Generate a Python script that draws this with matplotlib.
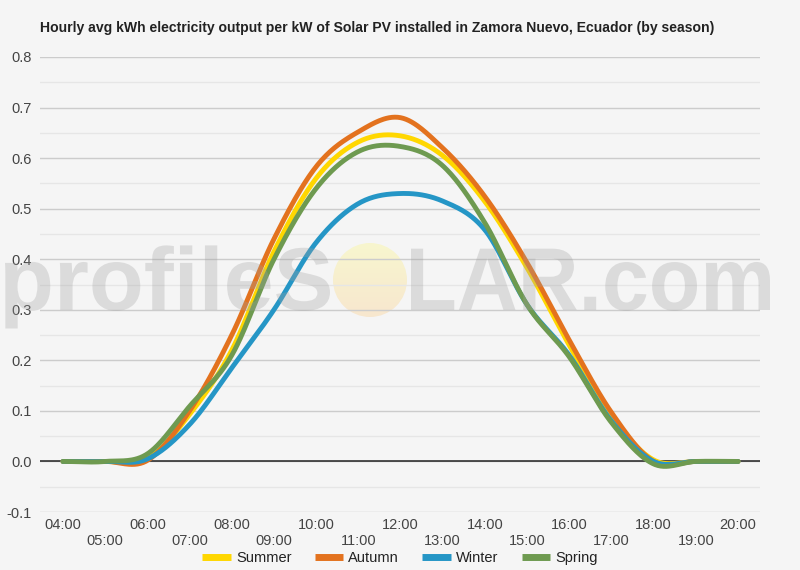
import numpy as np
import matplotlib
matplotlib.use("Agg")
import matplotlib.pyplot as plt
from matplotlib.patches import Circle, PathPatch
from matplotlib.textpath import TextPath
from matplotlib.font_manager import FontProperties
from matplotlib.transforms import Affine2D, IdentityTransform

hours = list(range(4, 21))
tick_labels = [f"{h:02d}:00" for h in hours]
summer = [0, 0, 0.005, 0.093, 0.22, 0.415, 0.56, 0.632, 0.644, 0.605, 0.514, 0.383, 0.23, 0.09, 0.003, 0, 0]
autumn = [0, 0, 0.002, 0.10, 0.25, 0.44, 0.583, 0.652, 0.68, 0.62, 0.524, 0.393, 0.24, 0.097, 0.0, 0, 0]
winter = [0, 0, 0.005, 0.073, 0.185, 0.30, 0.433, 0.51, 0.53, 0.515, 0.458, 0.31, 0.21, 0.08, 0.0, 0, 0]
spring = [0, 0, 0.015, 0.109, 0.21, 0.40, 0.54, 0.613, 0.623, 0.585, 0.472, 0.31, 0.207, 0.077, -0.005, 0, 0]
series_names = ["Summer", "Autumn", "Winter", "Spring"]
series_colors = ["#FFD700", "#E3721E", "#2596C6", "#6E9A50"]

plt.rcParams['font.family'] = ['Liberation Sans', 'DejaVu Sans']

BG = "#f5f5f5"
W, H = 800, 570
fig = plt.figure(figsize=(8, 5.7), dpi=100, facecolor=BG)
ax = fig.add_axes([40 / W, 1 - 512 / H, 720 / W, (512 - 57) / H], facecolor='none', zorder=2)

# sun of watermark (gradient disc) under the plot
cx, cy, r = 370, 280, 37
sax = fig.add_axes([(cx - r) / W, 1 - (cy + r) / H, 2 * r / W, 2 * r / H], zorder=1)
sax.axis('off')
top = np.array([248, 246, 206]) / 255
bot = np.array([247, 231, 207]) / 255
tt = np.linspace(0, 1, 64)[:, None]
grad = (top[None, :] * (1 - tt) + bot[None, :] * tt)[:, None, :].repeat(2, axis=1)
im = sax.imshow(grad, extent=[0, 1, 0, 1], aspect='auto', origin='upper')
clip = Circle((0.5, 0.5), 0.5, transform=sax.transAxes)
im.set_clip_path(clip)
sax.set_xlim(0, 1)
sax.set_ylim(0, 1)


def smooth(x, y, n=30):
    x = np.asarray(x, float)
    y = np.asarray(y, float)
    m = np.zeros_like(y)
    m[1:-1] = (y[2:] - y[:-2]) / (x[2:] - x[:-2])
    m[0] = (y[1] - y[0]) / (x[1] - x[0])
    m[-1] = (y[-1] - y[-2]) / (x[-1] - x[-2])
    xs, ys = [], []
    for i in range(len(x) - 1):
        h = x[i + 1] - x[i]
        t = np.linspace(0, 1, n, endpoint=False)
        h00 = 2 * t**3 - 3 * t**2 + 1
        h10 = t**3 - 2 * t**2 + t
        h01 = -2 * t**3 + 3 * t**2
        h11 = t**3 - t**2
        xs.append(x[i] + t * h)
        ys.append(h00 * y[i] + h10 * h * m[i] + h01 * y[i + 1] + h11 * h * m[i + 1])
    xs.append([x[-1]])
    ys.append([y[-1]])
    return np.concatenate(xs), np.concatenate(ys)


handles = []
for name, vals, col in zip(series_names, [summer, autumn, winter, spring], series_colors):
    sx, sy = smooth(hours, vals)
    ln, = ax.plot(sx, sy, color=col, lw=3.5, solid_capstyle='round', zorder=3, label=name)
    handles.append(ln)

px_per_hour = (738 - 63) / 16
ax.set_xlim(4 - 23 / px_per_hour, 20 + 22 / px_per_hour)
ax.set_ylim(-0.1, 0.8)

for v in np.arange(-0.1, 0.81, 0.1):
    ax.axhline(v, color="#cccccc", lw=1, zorder=1)
for v in np.arange(-0.05, 0.8, 0.1):
    ax.axhline(v, color="#e6e6e6", lw=1, zorder=1)
ax.axhline(0, color="#222222", lw=1.1, zorder=2)

for s in ax.spines.values():
    s.set_visible(False)
yt = np.round(np.arange(-0.1, 0.81, 0.1), 1)
ax.set_yticks(yt)
ax.set_yticklabels([f"{v:.1f}" for v in yt])
ax.set_xticks(hours)
ax.set_xticklabels([lab if i % 2 == 0 else "\n" + lab for i, lab in enumerate(tick_labels)])
ax.tick_params(axis='both', length=0, labelsize=10.5, colors="#444444")
ax.tick_params(axis='y', pad=5.8)
ax.tick_params(axis='x', pad=4)
for t in ax.get_xticklabels():
    t.set_linespacing(1.25)

fig.text(40 / W, 1 - 28 / H, "Hourly avg kWh electricity output per kW of Solar PV installed in Zamora Nuevo, Ecuador (by season)",
         fontsize=10.1, fontweight='bold', color="#222222", va='center', ha='left')

# watermark text, fitted to the reference extents (pixels)
fp = FontProperties(family='Liberation Sans', weight='bold')
CAP = 72.9  # cap height of Liberation Sans at size 100


def watermark(s, x0, x1, baseline, cap_px):
    tp = TextPath((0, 0), s, size=100, prop=fp)
    bb = tp.get_extents()
    sxf = (x1 - x0) / bb.width
    syf = cap_px / CAP
    tr = Affine2D().translate(-bb.x0, 0).scale(sxf, syf).translate(x0, H - baseline)
    patch = PathPatch(tr.transform_path(tp), facecolor="#a0a0a0", edgecolor='none', alpha=0.3,
                      transform=IdentityTransform(), zorder=10)
    fig.patches.append(patch)
    patch.set_figure(fig)


watermark("profileS", 5, 330, 310, 65)
watermark("LAR.com", 411, 770, 310, 65)

# legend
leg = fig.legend(handles=handles, loc='center', bbox_to_anchor=(0.5, 1 - 558 / H), ncol=4, frameon=False,
                 fontsize=10.5, handlelength=1.95, handletextpad=0.35, columnspacing=1.6, labelcolor="#222222",
                 borderaxespad=0, borderpad=0)
for line in leg.get_lines():
    line.set_linewidth(5)
    line.set_solid_capstyle('butt')

fig.savefig("out.png", dpi=100, facecolor=BG)
